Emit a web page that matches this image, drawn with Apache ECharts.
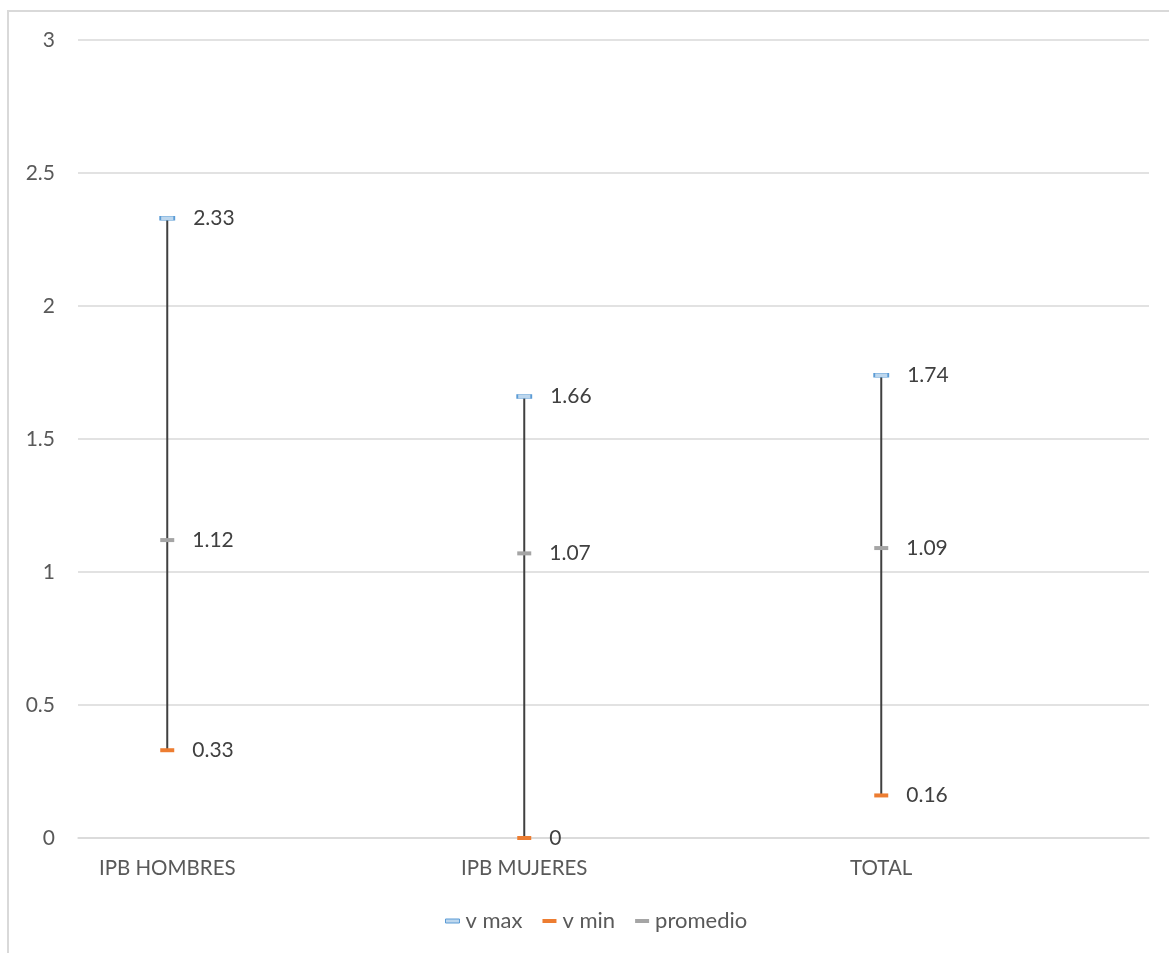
<!DOCTYPE html>
<html>
<head>
<meta charset="utf-8">
<script src="https://cdn.jsdelivr.net/npm/echarts@6/dist/echarts.min.js"></script>
<style>
  html, body { margin: 0; padding: 0; background: #fff; }
  #chart { width: 1169px; height: 953px; }
</style>
</head>
<body>
<div id="chart"></div>
<script>
// Categories and values
const categories = ['IPB HOMBRES', 'IPB MUJERES', 'TOTAL'];
const vMax = [2.33, 1.66, 1.74];
const vMin = [0.33, 0, 0.16];
const promedio = [1.12, 1.07, 1.09];
const yTicks = [0, 0.5, 1, 1.5, 2, 2.5, 3];

const FONT = 'Lato, "Open Sans", sans-serif';
const TEXT = '#404040';
const AXIS_TEXT = '#595959';

const chart = echarts.init(document.getElementById('chart'), null, { renderer: 'canvas' });

const labelCfg = {
  show: true,
  position: 'right',
  distance: 18,
  color: TEXT,
  fontSize: 21,
  fontFamily: FONT
};

// each category sits at its index on a numeric x axis
function pts(values) {
  return values.map((v, i) => [i, v]);
}

function dashSeries(name, values, color, fill) {
  return {
    name: name,
    type: 'line',
    data: pts(values),
    symbol: 'rect',
    symbolSize: [14, 4],
    showSymbol: true,
    lineStyle: { width: 0, opacity: 0 },
    itemStyle: { color: fill, borderColor: color, borderWidth: fill === color ? 0 : 1 },
    label: Object.assign({}, labelCfg, { formatter: p => String(p.value[1]) }),
    z: 5,
    animation: false
  };
}

chart.setOption({
  animation: false,
  backgroundColor: '#fff',
  graphic: [{
    type: 'rect',
    shape: { x: 8, y: 11, width: 1300, height: 1100 },
    style: { fill: 'none', stroke: '#D9D9D9', lineWidth: 2 },
    silent: true
  }],
  grid: { left: 78, right: 20, top: 40, bottom: 115 },
  legend: {
    bottom: 16,
    left: 440,
    itemWidth: 14,
    itemHeight: 4,
    itemGap: 20,
    textStyle: { color: AXIS_TEXT, fontSize: 22, fontFamily: FONT, padding: [0, 0, 0, 1] },
    data: [
      { name: 'v max', icon: 'rect', itemStyle: { color: '#BDD7EE', borderColor: '#5B9BD5', borderWidth: 1 } },
      { name: 'v min', icon: 'rect' },
      { name: 'promedio', icon: 'rect' }
    ]
  },
  xAxis: {
    type: 'value',
    min: -0.25,
    max: 2.75,
    axisLine: { show: true, onZero: false, lineStyle: { color: '#D9D9D9', width: 1.5 } },
    axisTick: { show: false },
    splitLine: { show: false },
    axisLabel: {
      color: AXIS_TEXT, fontSize: 20.5, fontFamily: FONT, margin: 20,
      customValues: categories.map((c, i) => i),
      formatter: v => categories[Math.round(v)] || ''
    }
  },
  yAxis: {
    type: 'value',
    min: yTicks[0],
    max: yTicks[yTicks.length - 1],
    interval: 0.5,
    axisLine: { show: false },
    axisTick: { show: false },
    axisLabel: { color: AXIS_TEXT, fontSize: 21, fontFamily: FONT, margin: 23 },
    splitLine: { lineStyle: { color: '#D9D9D9', width: 1.5 } }
  },
  series: [
    {
      // high-low connector from each minimum to its maximum
      name: 'range',
      type: 'custom',
      data: categories.map((c, i) => [i, vMin[i], vMax[i]]),
      encode: { x: 0, y: [1, 2] },
      renderItem: function (params, api) {
        const lo = api.coord([api.value(0), api.value(1)]);
        const hi = api.coord([api.value(0), api.value(2)]);
        return {
          type: 'line',
          shape: { x1: lo[0], y1: lo[1], x2: hi[0], y2: hi[1] },
          style: { stroke: '#404040', lineWidth: 2 }
        };
      },
      z: 2,
      silent: true
    },
    dashSeries('v max', vMax, '#5B9BD5', '#BDD7EE'),
    dashSeries('v min', vMin, '#ED7D31', '#ED7D31'),
    dashSeries('promedio', promedio, '#A5A5A5', '#A5A5A5')
  ]
});
</script>
</body>
</html>
